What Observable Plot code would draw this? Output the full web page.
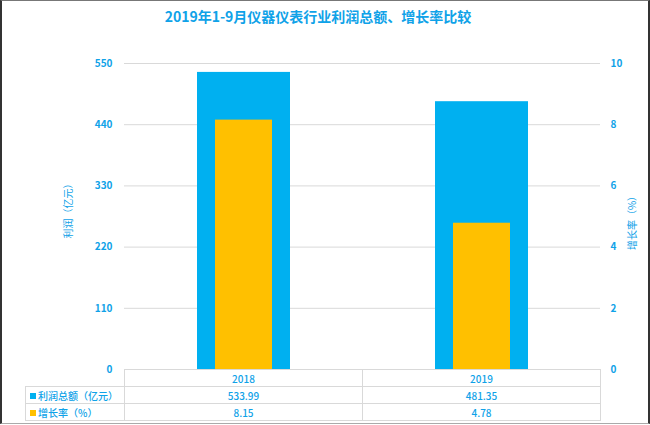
<!DOCTYPE html>
<html>
<head>
<meta charset="utf-8">
<script src="https://cdn.jsdelivr.net/npm/d3@7"></script>
<script src="https://cdn.jsdelivr.net/npm/@observablehq/plot@0.6"></script>
<style>
  html, body { margin: 0; padding: 0; background: #fff; }
  #wrap { position: relative; width: 650px; height: 425px; overflow: hidden; background: #fff;
          font-family: "Noto Sans CJK SC", "Noto Sans", sans-serif; color: #0fa2e8; }
  #frame { position: absolute; left: 0; top: 0; width: 650px; height: 424px; box-sizing: border-box;
           border-left: 2px solid #333; border-right: 2px solid #333; border-top: 1px solid #777; border-bottom: 1px solid #aaa; pointer-events: none; }
  #title { position: absolute; left: 0; width: 636px; top: 6px; text-align: center; font-size: 14px; font-weight: bold; color: #0fa2e8; }
  #chart { position: absolute; left: 0; top: 0; }
  #tbl { position: absolute; left: 25px; top: 369px; border-collapse: collapse; table-layout: fixed; font-size: 10px; font-weight: 500; color: #0fa2e8; }
  #tbl td { border: 1px solid #d9d9d9; padding: 0; text-align: center; white-space: nowrap; }
  #tbl td.leg { text-align: left; padding-left: 4px; }
  #tbl td.blank { border-top: none; border-left: none; }
  .sq { display: inline-block; width: 6px; height: 6px; margin-right: 2px; vertical-align: 1px; }
</style>
</head>
<body>
<div id="wrap">
  <div id="title">2019年1-9月仪器仪表行业利润总额、增长率比较</div>
  <div id="chart"></div>
  <table id="tbl"></table>
  <div id="frame"></div>
</div>
<script>
const years = ["2018", "2019"];
const profit = [533.99, 481.35];      // 利润总额（亿元）
const growth = [8.15, 4.78];          // 增长率（%）
const leftTicks = [0, 110, 220, 330, 440, 550];
const rightTicks = [0, 2, 4, 6, 8, 10];
const seriesNames = ["利润总额（亿元）", "增长率（%）"];
const colors = ["#00b0f0", "#ffc000"];
const leftTitle = "利润（亿元）";
const rightTitle = "增长率（%）";

const ratio = 550 / 10; // secondary axis mapping
const rows = years.map((y, i) => ({year: y, profit: profit[i], growth: growth[i]}));
const textColor = "#0fa2e8";

const chart = Plot.plot({
  width: 650,
  height: 380,
  marginTop: 63,
  marginBottom: 11,
  marginLeft: 124,
  marginRight: 50,
  style: {fontFamily: "'Noto Sans CJK SC', 'Noto Sans', sans-serif", fontSize: "10px", color: textColor, background: "transparent"},
  x: {domain: years, paddingInner: 0.61, paddingOuter: 0.305, axis: null},
  y: {domain: [0, 550], axis: null},
  marks: [
    Plot.ruleY(leftTicks.filter(d => d > 0), {stroke: "#d9d9d9", strokeWidth: 1}),
    Plot.barY(rows, {x: "year", y: "profit", fill: colors[0]}),
    Plot.barY(rows, {x: "year", y: d => d.growth * ratio, fill: colors[1], insetLeft: 18, insetRight: 18}),
    Plot.axisY({ticks: leftTicks, anchor: "left", tickSize: 0, tickPadding: 12, fill: textColor, fontWeight: 600, label: null}),
    Plot.axisY({ticks: rightTicks.map(d => d * ratio), tickFormat: d => String(Math.round(d / ratio)), anchor: "right", tickSize: 0, tickPadding: 10, fill: textColor, fontWeight: 600, label: null}),
    Plot.text([leftTitle], {frameAnchor: "left", textAnchor: "middle", dx: -56, dy: -8, rotate: -90, fill: textColor, fontSize: 10}),
    Plot.text([rightTitle], {frameAnchor: "right", textAnchor: "middle", dx: 32, dy: 4, rotate: -90, fill: textColor, fontSize: 10})
  ]
});
document.getElementById("chart").appendChild(chart);

// data table below chart
const tbl = document.getElementById("tbl");
const colW = [99, 238, 238];
const cg = document.createElement("colgroup");
colW.forEach(w => { const c = document.createElement("col"); c.style.width = w + "px"; cg.appendChild(c); });
tbl.appendChild(cg);
const hr = document.createElement("tr"); hr.style.height = "17px";
const blank = document.createElement("td"); blank.className = "blank"; hr.appendChild(blank);
years.forEach(y => { const td = document.createElement("td"); td.textContent = y; hr.appendChild(td); });
tbl.appendChild(hr);
[profit, growth].forEach((vals, si) => {
  const tr = document.createElement("tr"); tr.style.height = "17px";
  const lg = document.createElement("td"); lg.className = "leg";
  const sq = document.createElement("span"); sq.className = "sq"; sq.style.background = colors[si];
  lg.appendChild(sq); lg.appendChild(document.createTextNode(seriesNames[si]));
  tr.appendChild(lg);
  vals.forEach(v => { const td = document.createElement("td"); td.textContent = v.toFixed(2); tr.appendChild(td); });
  tbl.appendChild(tr);
});
</script>
</body>
</html>
